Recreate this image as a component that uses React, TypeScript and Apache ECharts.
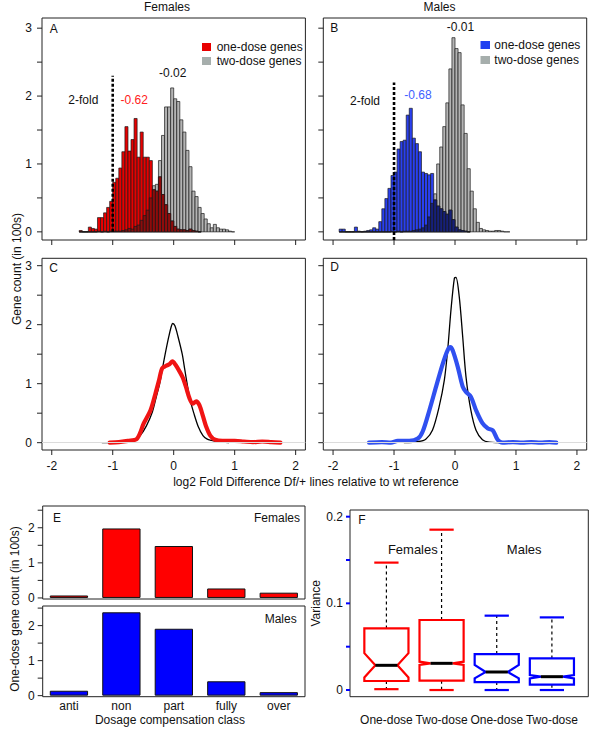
import React, { useEffect, useRef } from 'react';
import * as echarts from 'echarts';

const FONT = '"Liberation Sans", Arial, Helvetica, sans-serif';

// ---------- histogram bins (left edges, width 0.05) ----------
const BIN_WIDTH = 0.05;
const BIN_EDGES = [
  -1.95, -1.9, -1.85, -1.8, -1.75, -1.7, -1.65, -1.6, -1.55, -1.5,
  -1.45, -1.4, -1.35, -1.3, -1.25, -1.2, -1.15, -1.1, -1.05, -1,
  -0.95, -0.9, -0.85, -0.8, -0.75, -0.7, -0.65, -0.6, -0.55, -0.5,
  -0.45, -0.4, -0.35, -0.3, -0.25, -0.2, -0.15, -0.1, -0.05, 0,
  0.05, 0.1, 0.15, 0.2, 0.25, 0.3, 0.35, 0.4, 0.45, 0.5,
  0.55, 0.6, 0.65, 0.7, 0.75, 0.8, 0.85, 0.9, 0.95,
];
// Females, one-dose genes (in 100s)
const FEM_ONE = [
  null, null, null, null, null, null, null, null, 0.02, 0,
  0, 0.07, 0.05, 0.04, 0.21, 0.21, 0.28, 0.36, 0.45, 0.73,
  0.79, 0.94, 1.18, 1.55, 1.19, 1.36, 1.67, 1.1, 1.47, 1.1,
  1.1, 1.05, 0.62, 0.6, 0.81, 0.55, 0.4, 0.27, 0.16, 0.08,
  0.04, 0.03, 0.03, 0.02, 0.04, 0.02, 0.01, 0, null, null,
  null, null, null, null, null, null, null, null, null,
];
// Females, two-dose genes
const FEM_TWO = [
  null, null, null, null, null, null, null, null, 0, 0,
  0, 0, 0, 0, 0.01, 0, 0.01, 0, 0.01, 0.01,
  0.01, 0.01, 0.02, 0.03, 0.05, 0.04, 0.08, 0.1, 0.17, 0.24,
  0.32, 0.5, 0.68, 0.7, 1.05, 1.42, 1.84, 1.84, 2.12, 1.96,
  1.92, 1.65, 1.47, 1.2, 0.96, 0.6, 0.52, 0.36, 0.27, 0.19,
  0.12, 0.06, 0.11, 0.06, 0.04, 0.04, 0.03, 0.01, 0,
];
// Males, one-dose genes
const MAL_ONE = [
  null, 0.04, 0.04, 0, 0, 0, 0.07, 0.01, 0, 0.01,
  0.02, 0.03, 0.06, 0.04, 0.15, 0.34, 0.49, 0.64, 0.83, 0.88,
  1.22, 1.33, 1.35, 1.72, 1.82, 1.38, 1.3, 1.18, 0.88, 0.86,
  0.84, 0.86, 0.47, 0.38, 0.34, 0.3, 0.26, 0.32, 0.18, 0.07,
  0.03, 0.02, 0.01, 0, null, null, null, null, null, null,
  null, null, null, null, null, null, null, null, null,
];
// Males, two-dose genes
const MAL_TWO = [
  null, 0, 0, 0, 0, 0, 0, 0, 0, 0,
  0, 0, 0, 0, 0, 0, 0, 0, 0.01, 0,
  0.01, 0, 0.01, 0.01, 0.01, 0.02, 0.03, 0.04, 0.06, 0.1,
  0.22, 0.42, 0.56, 1.0, 1.25, 1.55, 1.9, 2.4, 2.86, 2.7,
  2.64, 1.87, 1.45, 0.93, 0.6, 0.34, 0.14, 0.05, 0.03, 0.02,
  0.01, 0.01, 0.02, 0.02, 0.01, 0, 0, null, null,
];

// 2-fold reference line
const TWOFOLD_X = -1;
const TWOFOLD_A = [0, 2.3];
const TWOFOLD_B = [-0.12, 2.2];

// ---------- density curves ----------
const C_BLACK_X = [-1.17, -0.95, -0.75, -0.65, -0.55, -0.45, -0.35, -0.28, -0.23, -0.18, -0.14, -0.08, -0.04, -0.016, 0.02, 0.07, 0.14, 0.18, 0.22, 0.27, 0.33, 0.4, 0.48, 0.55, 0.62, 0.7, 0.8, 0.9];
const C_BLACK_Y = [0, 0.01, 0.03, 0.05, 0.12, 0.28, 0.52, 0.8, 1.0, 1.28, 1.5, 1.8, 1.97, 2.02, 1.98, 1.8, 1.5, 1.25, 1.0, 0.72, 0.5, 0.28, 0.12, 0.06, 0.04, 0.02, 0.01, 0];
const C_RED_X = [-1.05, -0.9, -0.75, -0.6, -0.49, -0.38, -0.3, -0.24, -0.19, -0.13, -0.07, -0.02, 0.03, 0.1, 0.15, 0.2, 0.26, 0.31, 0.37, 0.42, 0.48, 0.53, 0.6, 0.68, 0.8, 1.0, 1.15, 1.3, 1.45, 1.6, 1.75];
const C_RED_Y = [0, 0.01, 0.03, 0.07, 0.33, 0.55, 0.83, 1.06, 1.26, 1.3, 1.33, 1.38, 1.32, 1.2, 1.1, 0.95, 0.75, 0.66, 0.7, 0.64, 0.45, 0.28, 0.12, 0.05, 0.03, 0.03, 0.02, 0.01, 0.02, 0.01, 0];
const D_BLACK_X = [-0.83, -0.6, -0.48, -0.37, -0.26, -0.175, -0.12, -0.066, -0.01, 0.016, 0.07, 0.126, 0.18, 0.26, 0.345, 0.45, 0.56, 0.84];
const D_BLACK_Y = [0, 0.02, 0.06, 0.21, 0.61, 1.06, 1.57, 2.25, 2.79, 2.8, 2.47, 1.8, 1.12, 0.55, 0.21, 0.05, 0.01, 0];
const D_BLUE_X = [-1.41, -1.2, -1.05, -0.94, -0.75, -0.61, -0.53, -0.42, -0.31, -0.2, -0.12, -0.077, -0.04, 0.044, 0.126, 0.18, 0.26, 0.345, 0.45, 0.54, 0.62, 0.7, 0.78, 0.95, 1.1, 1.25, 1.4, 1.55, 1.66];
const D_BLUE_Y = [0, 0.01, 0, 0.03, 0.03, 0.07, 0.19, 0.55, 0.95, 1.34, 1.57, 1.62, 1.57, 1.29, 0.95, 0.86, 0.78, 0.55, 0.33, 0.24, 0.21, 0.05, 0, 0.01, 0, 0.01, 0, 0.01, 0];

// ---------- panel E ----------
const E_CATS = ['anti', 'non', 'part', 'fully', 'over'];
const E_FEMALES = [0.07, 1.98, 1.48, 0.27, 0.15];
const E_MALES = [0.14, 2.38, 1.91, 0.41, 0.1];

// ---------- panel F (notched boxplots) ----------
const BOX_LABELS = ['One-dose', 'Two-dose', 'One-dose', 'Two-dose'];
const BOX_POS = [1, 2, 3, 4];
const BOX_LOW = [0.001, 0, 0, 0];
const BOX_Q1 = [0.0104, 0.0108, 0.0092, 0.0062];
const BOX_NOTCH_LO = [0.0145, 0.0289, 0.0135, 0.0135];
const BOX_MED = [0.0285, 0.0308, 0.0208, 0.0154];
const BOX_NOTCH_HI = [0.0425, 0.0327, 0.029, 0.0173];
const BOX_Q3 = [0.0711, 0.0808, 0.0415, 0.0365];
const BOX_HIGH = [0.147, 0.185, 0.0858, 0.0838];
const BOX_COLORS = ['#ff0000', '#ff0000', '#0000ff', '#0000ff'];

// ---------- axis ticks / labels ----------
const X_TICKS = [-2, -1, 0, 1, 2];
const COUNT_TICKS = [0, 0.5, 1, 1.5, 2, 2.5, 3];
const COUNT_LABELS = [0, 1, 2, 3];
const E_TICKS = [0, 0.5, 1, 1.5, 2, 2.5];
const E_LABELS = [0, 1, 2];
const VAR_TICKS = [0, 0.05, 0.1, 0.15, 0.2];
const VAR_LABELS = [0, 0.1, 0.2];

// axis ranges
const HIST_X = [-2.16, 2.16];
const HIST_Y = [-0.12, 3.15];
const DENS_Y = [-0.124, 3.125];
const E1_Y = [-0.03, 2.62];
const E2_Y = [-0.03, 2.56];
const F_X = [0.34, 4.66];
const F_Y = [-0.0077, 0.2077];

// ---------- helpers ----------
const histSeries = (gi: number, values: (number | null)[], fill: string) => ({
  type: 'custom',
  xAxisIndex: gi,
  yAxisIndex: gi,
  silent: true,
  data: BIN_EDGES.map((e, i) => [e, values[i]]).filter((d) => d[1] !== null),
  renderItem: (_p: any, api: any) => {
    const x0 = api.value(0) as number;
    const h = api.value(1) as number;
    const a = api.coord([x0, 0]);
    const b = api.coord([x0 + BIN_WIDTH, h]);
    return {
      type: 'rect',
      shape: { x: a[0], y: b[1], width: b[0] - a[0], height: a[1] - b[1] },
      style: { fill, stroke: '#1a1a1a', lineWidth: 0.7 },
    };
  },
});

// tick marks drawn through the axes' own scales: y ticks sit on the left edge, x ticks on the bottom edge
const yTicks = (gi: number, values: number[], leftX: number | 'band', len: number, color: string, width: number) => ({
  type: 'custom',
  xAxisIndex: gi,
  yAxisIndex: gi,
  silent: true,
  clip: false,
  z: 5,
  data: values.map((v) => [leftX === 'band' ? 0 : leftX, v]),
  renderItem: (_p: any, api: any) => {
    const pt = api.coord([api.value(0), api.value(1)]);
    let x = pt[0];
    if (leftX === 'band') x -= api.size([1, 0])[0] / 2;
    return {
      type: 'line',
      shape: { x1: x - len, y1: pt[1], x2: x, y2: pt[1] },
      style: { stroke: color, lineWidth: width },
    };
  },
});

const xTicks = (gi: number, values: number[], bottomY: number, len: number) => ({
  type: 'custom',
  xAxisIndex: gi,
  yAxisIndex: gi,
  silent: true,
  clip: false,
  z: 5,
  data: values.map((v) => [v, bottomY]),
  renderItem: (_p: any, api: any) => {
    const pt = api.coord([api.value(0), api.value(1)]);
    return {
      type: 'line',
      shape: { x1: pt[0], y1: pt[1], x2: pt[0], y2: pt[1] + len },
      style: { stroke: '#222', lineWidth: 1 },
    };
  },
});

const overlap = (a: (number | null)[], b: (number | null)[]) =>
  a.map((v, i) => (v === null || b[i] === null ? null : Math.min(v as number, b[i] as number)));

const lineSeries = (gi: number, xs: number[], ys: number[], color: string, width: number, extra: any = {}) => ({
  type: 'line',
  xAxisIndex: gi,
  yAxisIndex: gi,
  data: xs.map((x, i) => [x, ys[i]]),
  showSymbol: false,
  symbol: 'none',
  smooth: 0.3,
  silent: true,
  lineStyle: { color, width, cap: 'round', join: 'round' },
  ...extra,
});

const labelStyle = { fontFamily: FONT, fontSize: 12, color: '#111' };
const noLine = { show: false, onZero: false };

const histX = (gi: number, labels: boolean) => ({
  type: 'value',
  gridIndex: gi,
  position: 'bottom',
  min: HIST_X[0],
  max: HIST_X[1],
  axisLine: noLine,
  splitLine: { show: false },
  axisTick: { show: false },
  axisLabel: labels
    ? { show: true, customValues: X_TICKS, margin: 10, formatter: (v: number) => String(v), ...labelStyle }
    : { show: false },
});

const countY = (gi: number, range: number[], labels: boolean) => ({
  type: 'value',
  gridIndex: gi,
  position: 'left',
  min: range[0],
  max: range[1],
  axisLine: noLine,
  splitLine: { show: false },
  axisTick: { show: false },
  axisLabel: labels
    ? { show: true, customValues: COUNT_LABELS, margin: 10, formatter: (v: number) => String(v), ...labelStyle }
    : { show: false },
});

const eY = (gi: number, range: number[]) => ({
  type: 'value',
  gridIndex: gi,
  position: 'left',
  min: range[0],
  max: range[1],
  axisLine: noLine,
  splitLine: { show: false },
  axisTick: { show: false },
  axisLabel: { show: true, customValues: E_LABELS, margin: 8, formatter: (v: number) => String(v), ...labelStyle },
});

const eX = (gi: number, labels: boolean) => ({
  type: 'category',
  gridIndex: gi,
  position: 'bottom',
  data: E_CATS,
  axisLine: noLine,
  splitLine: { show: false },
  axisTick: { show: false },
  axisLabel: labels ? { show: true, margin: 3, ...labelStyle } : { show: false },
});

const grid = (left: number, top: number, width: number, height: number) => ({
  left,
  top,
  width,
  height,
  show: true,
  borderColor: '#222',
  borderWidth: 1,
  backgroundColor: 'transparent',
  containLabel: false,
  outerBoundsMode: 'none',
});

const T = (text: string, x: number, y: number, o: any = {}) => ({
  type: 'text',
  x,
  y,
  rotation: o.rot || 0,
  silent: true,
  style: {
    text,
    fontSize: o.size || 12,
    fontFamily: FONT,
    fill: o.color || '#111',
    align: o.align || 'center',
    verticalAlign: 'middle',
  },
});

const R = (x: number, y: number, w: number, h: number, fill: string) => ({
  type: 'rect',
  silent: true,
  shape: { x, y, width: w, height: h },
  style: { fill },
});

function buildOption(): any {
  const RED = '#e80000';
  const DARK_RED = '#8e0c0c';
  const GRAY = '#b4b4b4';
  const BLUE = '#2a40f0';
  const DARK_BLUE = '#16207a';

  const boxData = BOX_POS.map((p, i) => [p, BOX_LOW[i], BOX_Q1[i], BOX_NOTCH_LO[i], BOX_MED[i], BOX_NOTCH_HI[i], BOX_Q3[i], BOX_HIGH[i]]);

  return {
    animation: false,
    backgroundColor: '#ffffff',
    textStyle: { fontFamily: FONT },
    grid: [
      grid(42, 18, 263.4, 222), // A
      grid(323.3, 18, 263.4, 222), // B
      grid(42, 258.3, 263.4, 191.7), // C
      grid(323.3, 258.3, 263.4, 191.7), // D
      grid(42.7, 506, 262.3, 93), // E top
      grid(42.7, 606, 262.3, 90.7), // E bottom
      grid(350, 510, 238.3, 186.7), // F
    ],
    xAxis: [
      histX(0, false),
      histX(1, false),
      histX(2, true),
      histX(3, true),
      eX(4, false),
      eX(5, true),
      {
        type: 'value',
        gridIndex: 6,
        position: 'bottom',
        min: F_X[0],
        max: F_X[1],
        axisLine: noLine,
        splitLine: { show: false },
        axisTick: { show: false },
        axisLabel: {
          show: true,
          customValues: BOX_POS,
          margin: 17,
          formatter: (v: number) => BOX_LABELS[Math.round(v) - 1] || '',
          ...labelStyle,
        },
      },
    ],
    yAxis: [
      countY(0, HIST_Y, true),
      countY(1, HIST_Y, false),
      countY(2, DENS_Y, true),
      countY(3, DENS_Y, false),
      eY(4, E1_Y),
      eY(5, E2_Y),
      {
        type: 'value',
        gridIndex: 6,
        position: 'left',
        min: F_Y[0],
        max: F_Y[1],
        axisLine: noLine,
        splitLine: { show: false },
        axisTick: { show: false },
        axisLabel: {
          show: true,
          customValues: VAR_LABELS,
          margin: 7,
          formatter: (v: number) => (v === 0 ? '0' : String(Math.round(v * 10) / 10)),
          ...labelStyle,
        },
      },
    ],
    series: [
      // A
      histSeries(0, FEM_TWO, GRAY),
      histSeries(0, FEM_ONE, RED),
      histSeries(0, overlap(FEM_ONE, FEM_TWO), DARK_RED),
      {
        type: 'line', xAxisIndex: 0, yAxisIndex: 0, silent: true, symbol: 'none',
        data: [[TWOFOLD_X, TWOFOLD_A[0]], [TWOFOLD_X, TWOFOLD_A[1]]],
        lineStyle: { color: '#000', width: 2.6, type: [3, 2] },
      },
      // B
      histSeries(1, MAL_TWO, GRAY),
      histSeries(1, MAL_ONE, BLUE),
      histSeries(1, overlap(MAL_ONE, MAL_TWO), DARK_BLUE),
      {
        type: 'line', xAxisIndex: 1, yAxisIndex: 1, silent: true, symbol: 'none',
        data: [[TWOFOLD_X, TWOFOLD_B[0]], [TWOFOLD_X, TWOFOLD_B[1]]],
        lineStyle: { color: '#000', width: 2.6, type: [3, 2] },
      },
      // C
      lineSeries(2, C_BLACK_X, C_BLACK_Y, '#000', 1.3, {
        markLine: {
          silent: true, symbol: 'none', label: { show: false },
          lineStyle: { color: '#dcdcdc', width: 1, type: 'solid' },
          data: [{ yAxis: 0 }],
        },
      }),
      lineSeries(2, C_RED_X, C_RED_Y, '#f01414', 4.2),
      // D
      lineSeries(3, D_BLACK_X, D_BLACK_Y, '#000', 1.3, {
        markLine: {
          silent: true, symbol: 'none', label: { show: false },
          lineStyle: { color: '#dcdcdc', width: 1, type: 'solid' },
          data: [{ yAxis: 0 }],
        },
      }),
      lineSeries(3, D_BLUE_X, D_BLUE_Y, '#3050f0', 4.2),
      // E
      {
        type: 'bar', xAxisIndex: 4, yAxisIndex: 4, silent: true, data: E_FEMALES,
        barCategoryGap: '27%',
        itemStyle: { color: '#ff0000', borderColor: '#111', borderWidth: 1 },
      },
      {
        type: 'bar', xAxisIndex: 5, yAxisIndex: 5, silent: true, data: E_MALES,
        barCategoryGap: '27%',
        itemStyle: { color: '#0000ff', borderColor: '#111', borderWidth: 1 },
      },
      // F
      {
        type: 'custom', xAxisIndex: 6, yAxisIndex: 6, silent: true,
        data: boxData,
        renderItem: (params: any, api: any) => {
          const i = params.dataIndex;
          const pos = api.value(0);
          const low = api.value(1), q1 = api.value(2), nLo = api.value(3), med = api.value(4);
          const nHi = api.value(5), q3 = api.value(6), high = api.value(7);
          const c = BOX_COLORS[i];
          const P = (dx: number, v: number) => api.coord([pos + dx, v]);
          const seg = (a: number[], b: number[], style: any) => ({
            type: 'line', shape: { x1: a[0], y1: a[1], x2: b[0], y2: b[1] }, style,
          });
          const dash = { stroke: '#000', lineWidth: 1.2, lineDash: [3, 3] };
          const cap = { stroke: c, lineWidth: 2.2 };
          return {
            type: 'group',
            children: [
              seg(P(0, q3), P(0, high), dash),
              seg(P(0, q1), P(0, low), dash),
              seg(P(-0.22, high), P(0.22, high), cap),
              seg(P(-0.22, low), P(0.22, low), cap),
              {
                type: 'polygon',
                shape: {
                  points: [
                    P(-0.4, q3), P(0.4, q3), P(0.4, nHi), P(0.2, med), P(0.4, nLo),
                    P(0.4, q1), P(-0.4, q1), P(-0.4, nLo), P(-0.2, med), P(-0.4, nHi),
                  ],
                },
                style: { fill: 'none', stroke: c, lineWidth: 2.2 },
              },
              seg(P(-0.2, med), P(0.2, med), { stroke: '#000', lineWidth: 3 }),
            ],
          };
        },
      },
      // tick marks
      yTicks(0, COUNT_TICKS, HIST_X[0], 5, '#222', 1),
      yTicks(1, COUNT_TICKS, HIST_X[0], 5, '#222', 1),
      yTicks(2, COUNT_TICKS, HIST_X[0], 5, '#222', 1),
      yTicks(3, COUNT_TICKS, HIST_X[0], 5, '#222', 1),
      xTicks(0, X_TICKS, HIST_Y[0], 5),
      xTicks(1, X_TICKS, HIST_Y[0], 5),
      xTicks(2, X_TICKS, DENS_Y[0], 5),
      xTicks(3, X_TICKS, DENS_Y[0], 5),
      yTicks(4, E_TICKS, 'band', 5, '#222', 1),
      yTicks(5, E_TICKS, 'band', 5, '#222', 1),
      yTicks(6, VAR_TICKS, F_X[0], 4, '#0000ff', 2),
    ],
    graphic: [
      T('Females', 167, 7),
      T('Males', 439.5, 7),
      T('A', 53.7, 29),
      T('B', 334.2, 28),
      T('2-fold', 83.3, 99.5),
      T('-0.62', 134.2, 99.5, { color: '#ff2020' }),
      T('-0.02', 172.7, 72.5),
      R(202, 43, 9, 8, '#e80000'),
      T('one-dose genes', 216.7, 47.2, { align: 'left' }),
      R(202, 57, 9, 8, '#a6aeac'),
      T('two-dose genes', 216.7, 61.3, { align: 'left' }),
      T('2-fold', 365, 100.5),
      T('-0.68', 418, 95, { color: '#4060ff' }),
      T('-0.01', 460.5, 27.2),
      R(480.5, 41, 9.5, 8, '#2040f0'),
      T('one-dose genes', 494.3, 45, { align: 'left' }),
      R(480.5, 56, 9.5, 8, '#a6aeac'),
      T('two-dose genes', 494.3, 60, { align: 'left' }),
      T('C', 53.7, 268.3),
      T('D', 334.5, 267),
      T('Gene count (in 100s)', 16.5, 269, { rot: Math.PI / 2 }),
      T('log2 Fold Difference Df/+ lines relative to wt reference', 316, 482.3),
      T('E', 57, 518.3),
      T('Females', 300, 517.8, { align: 'right' }),
      T('Males', 296.7, 618.5, { align: 'right' }),
      T('One-dose gene count (in 100s)', 15, 609, { rot: Math.PI / 2 }),
      T('Dosage compensation class', 170, 720),
      T('F', 362, 520),
      T('Females', 412.8, 549.7, { size: 13 }),
      T('Males', 524.2, 549.7, { size: 13 }),
      T('Variance', 315.8, 603.3, { rot: Math.PI / 2 }),
    ],
  };
}

export default function App() {
  const ref = useRef<HTMLDivElement>(null);
  useEffect(() => {
    if (!ref.current) return;
    const chart = echarts.init(ref.current, null, { renderer: 'svg' });
    chart.setOption(buildOption());
    return () => chart.dispose();
  }, []);
  return (
    <div
      ref={ref}
      style={{ position: 'absolute', left: 0, top: 0, width: 600, height: 741, background: '#fff' }}
    />
  );
}
